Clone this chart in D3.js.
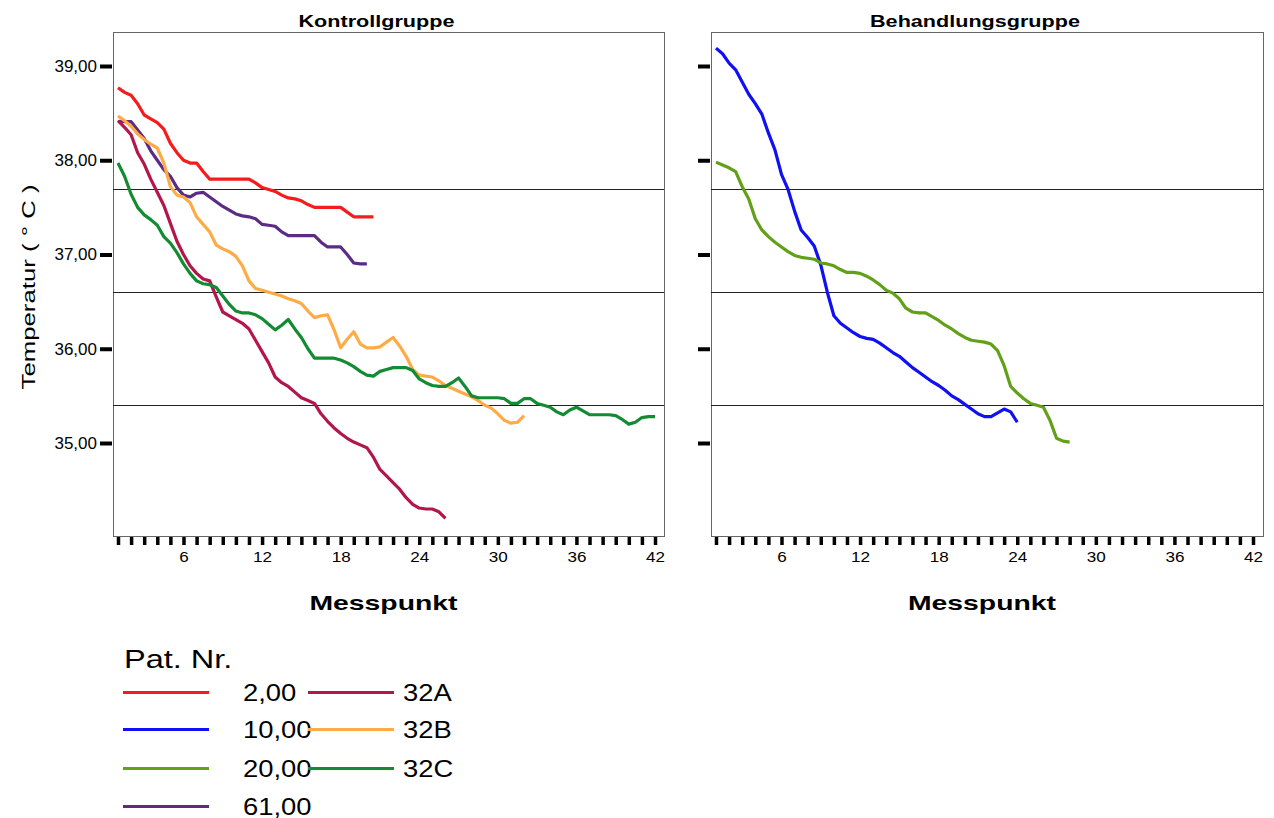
<!DOCTYPE html>
<html>
<head>
<meta charset="utf-8">
<script src="https://cdn.jsdelivr.net/npm/d3@7"></script>
<style>
  body { margin: 0; background: #fff; }
  svg text { font-family: "Liberation Sans", Arial, sans-serif; fill: #000; }
</style>
</head>
<body>
<svg id="chart" width="1274" height="818"></svg>
<script>
// Messpunkt of the first value, and the spacing between readings
const firstPoint = 1;
const step = 0.5;

const panels = ['Kontrollgruppe', 'Behandlungsgruppe'];
const yTicks = [35, 36, 37, 38, 39];
const xTicks = d3.range(1, 43);
const refLines = [37.7, 36.6, 35.4];

// Kontrollgruppe
const pat2 = [38.77, 38.72, 38.69, 38.6, 38.48, 38.44, 38.4, 38.33, 38.18, 38.08, 38.0, 37.97, 37.97,
  37.88, 37.8, 37.8, 37.8, 37.8, 37.8, 37.8, 37.8, 37.76, 37.71, 37.69, 37.67, 37.63, 37.6, 37.59,
  37.57, 37.53, 37.5, 37.5, 37.5, 37.5, 37.5, 37.45, 37.4, 37.4, 37.4, 37.4];
const pat61 = [38.41, 38.41, 38.41, 38.32, 38.23, 38.1, 38.0, 37.9, 37.83, 37.71, 37.63, 37.61, 37.65,
  37.66, 37.61, 37.56, 37.51, 37.47, 37.43, 37.41, 37.4, 37.38, 37.32, 37.31, 37.3, 37.24, 37.2, 37.2,
  37.2, 37.2, 37.2, 37.13, 37.08, 37.08, 37.08, 37.0, 36.91, 36.9, 36.9];
const pat32A = [38.42, 38.35, 38.27, 38.08, 37.96, 37.8, 37.66, 37.52, 37.33, 37.14, 37.0, 36.88, 36.8,
  36.74, 36.72, 36.55, 36.39, 36.35, 36.31, 36.27, 36.21, 36.09, 35.97, 35.85, 35.7, 35.64, 35.6, 35.54,
  35.48, 35.45, 35.42, 35.31, 35.23, 35.16, 35.1, 35.05, 35.01, 34.98, 34.95, 34.85, 34.72, 34.65,
  34.58, 34.51, 34.42, 34.35, 34.31, 34.3, 34.3, 34.27, 34.2];
const pat32B = [38.47, 38.42, 38.36, 38.28, 38.22, 38.17, 38.13, 37.97, 37.72, 37.63, 37.61, 37.55, 37.4,
  37.32, 37.24, 37.1, 37.06, 37.03, 36.98, 36.88, 36.72, 36.64, 36.62, 36.6, 36.58, 36.56, 36.53, 36.51,
  36.48, 36.4, 36.33, 36.35, 36.36, 36.2, 36.01, 36.1, 36.18, 36.05, 36.01, 36.01, 36.02, 36.07, 36.12,
  36.03, 35.92, 35.78, 35.72, 35.71, 35.7, 35.66, 35.61, 35.58, 35.55, 35.52, 35.49, 35.45, 35.4, 35.37,
  35.31, 35.24, 35.21, 35.22, 35.29];
const pat32C = [37.97, 37.83, 37.64, 37.5, 37.42, 37.37, 37.31, 37.19, 37.12, 37.02, 36.9, 36.8, 36.72,
  36.69, 36.68, 36.65, 36.56, 36.47, 36.4, 36.38, 36.38, 36.36, 36.32, 36.26, 36.2, 36.25, 36.31, 36.21,
  36.12, 36.0, 35.9, 35.9, 35.9, 35.9, 35.88, 35.85, 35.81, 35.76, 35.72, 35.71, 35.76, 35.78, 35.8, 35.8,
  35.8, 35.77, 35.68, 35.64, 35.61, 35.6, 35.6, 35.64, 35.69, 35.6, 35.5, 35.48, 35.48, 35.48, 35.48,
  35.47, 35.42, 35.42, 35.47, 35.47, 35.42, 35.4, 35.38, 35.33, 35.3, 35.35, 35.38, 35.34, 35.3, 35.3,
  35.3, 35.3, 35.29, 35.25, 35.2, 35.22, 35.27, 35.28, 35.28];

// Behandlungsgruppe
const pat10 = [39.19, 39.13, 39.03, 38.96, 38.83, 38.7, 38.6, 38.49, 38.29, 38.11, 37.85, 37.69, 37.46,
  37.26, 37.18, 37.09, 36.89, 36.6, 36.35, 36.27, 36.22, 36.17, 36.13, 36.11, 36.1, 36.06, 36.01, 35.96,
  35.92, 35.86, 35.8, 35.75, 35.7, 35.65, 35.61, 35.56, 35.5, 35.46, 35.41, 35.36, 35.31, 35.28, 35.28,
  35.32, 35.36, 35.33, 35.22];
const pat20 = [37.98, 37.95, 37.92, 37.88, 37.72, 37.59, 37.38, 37.26, 37.19, 37.13, 37.08, 37.03, 36.99,
  36.97, 36.96, 36.95, 36.91, 36.9, 36.88, 36.84, 36.81, 36.81, 36.8, 36.77, 36.73, 36.68, 36.62, 36.59,
  36.53, 36.43, 36.39, 36.38, 36.38, 36.34, 36.3, 36.25, 36.21, 36.16, 36.12, 36.09, 36.08, 36.07, 36.05,
  35.98, 35.82, 35.6, 35.53, 35.47, 35.42, 35.4, 35.38, 35.24, 35.05, 35.02, 35.01];

const patLabels = ['2,00', '10,00', '20,00', '61,00', '32A', '32B', '32C'];
const patColors = ['#f41c1c', '#1010f2', '#62a018', '#5b2c84', '#b3164a', '#ffab45', '#138b33'];
const patValues = [pat2, pat10, pat20, pat61, pat32A, pat32B, pat32C];
const patPanel = [0, 1, 1, 0, 0, 0, 0];

const svg = d3.select('#chart');

// stretch a text horizontally to look like the wide original lettering
function stretch(sel, k) {
    sel.each(function () {
        const w = this.getComputedTextLength();
        if (w > 0) {
            d3.select(this).attr('textLength', w * k).attr('lengthAdjust', 'spacingAndGlyphs');
        }
    });
}

const frames = [
    {left: 113, right: 664},
    {left: 711, right: 1263},
];
const frameTop = 32;
const frameBottom = 536;

const y = d3.scaleLinear().domain([35, 39]).range([443, 66]);

frames.forEach((f, p) => {
    const x = d3.scaleLinear().domain([1, 42]).range([f.left + 5, f.left + 542]);
    const g = svg.append('g');

    g.append('rect')
        .attr('x', f.left + 0.5)
        .attr('y', frameTop + 0.5)
        .attr('width', f.right - f.left)
        .attr('height', frameBottom - frameTop)
        .attr('fill', 'none')
        .attr('stroke', '#666')
        .attr('stroke-width', 1);

    g.append('text')
        .attr('x', (f.left + f.right) / 2 - 12)
        .attr('y', 27)
        .attr('text-anchor', 'middle')
        .attr('font-size', 17)
        .attr('font-weight', 'bold')
        .text(panels[p])
        .call(stretch, 1.27);

    g.selectAll('line.ref')
        .data(refLines)
        .join('line')
        .attr('class', 'ref')
        .attr('x1', f.left)
        .attr('x2', f.right)
        .attr('y1', d => Math.round(y(d)) + 0.5)
        .attr('y2', d => Math.round(y(d)) + 0.5)
        .attr('stroke', '#222')
        .attr('stroke-width', 1.2);

    const yAxis = g.append('g')
        .attr('transform', `translate(${f.left - 1},0)`)
        .call(d3.axisLeft(y)
            .tickValues(yTicks)
            .tickSize(12)
            .tickPadding(3)
            .tickFormat(d => p === 0 ? d.toFixed(2).replace('.', ',') : ''));
    yAxis.select('.domain').remove();
    yAxis.selectAll('line').attr('stroke', '#000').attr('stroke-width', 4);
    yAxis.selectAll('text')
        .attr('font-size', 17)
        .attr('font-family', '"Liberation Sans", Arial, sans-serif')
        .attr('fill', '#222');

    const xAxis = g.append('g')
        .attr('transform', `translate(0,${frameBottom + 1})`)
        .call(d3.axisBottom(x)
            .tickValues(xTicks)
            .tickSize(8)
            .tickPadding(7)
            .tickFormat(d => d % 6 === 0 ? d : ''));
    xAxis.select('.domain').remove();
    xAxis.selectAll('line').attr('stroke', '#000').attr('stroke-width', 3.5);
    xAxis.selectAll('text')
        .attr('font-size', 14)
        .attr('font-family', '"Liberation Sans", Arial, sans-serif')
        .attr('fill', '#222')
        .call(stretch, 1.22);

    g.append('text')
        .attr('x', (f.left + f.right) / 2 - 5)
        .attr('y', 610)
        .attr('text-anchor', 'middle')
        .attr('font-size', 21)
        .attr('font-weight', 'bold')
        .text('Messpunkt')
        .call(stretch, 1.35);

    const line = d3.line()
        .x((d, i) => x(firstPoint + i * step))
        .y(d => y(d));

    patValues.forEach((vals, i) => {
        if (patPanel[i] !== p) return;
        g.append('path')
            .attr('d', line(vals))
            .attr('fill', 'none')
            .attr('stroke', patColors[i])
            .attr('stroke-width', 3.2)
            .attr('stroke-linejoin', 'round');
    });
});

svg.append('text')
    .attr('transform', 'translate(35,287) rotate(-90)')
    .attr('text-anchor', 'middle')
    .attr('font-size', 19)
    .text('Temperatur ( ° C )')
    .attr('textLength', 205)
    .attr('lengthAdjust', 'spacingAndGlyphs');

// legend
const legend = svg.append('g');
legend.append('text')
    .attr('x', 124)
    .attr('y', 668)
    .attr('font-size', 26)
    .text('Pat. Nr.')
    .call(stretch, 1.25);

const rowY = [692.5, 729.5, 768.5, 806.5];
const items = legend.selectAll('g.item')
    .data(patLabels)
    .join('g')
    .attr('class', 'item')
    .attr('transform', (d, i) => i < 4
        ? `translate(0,${rowY[i]})`
        : `translate(185,${rowY[i - 4]})`);

items.append('line')
    .attr('x1', 123)
    .attr('x2', 209)
    .attr('stroke', (d, i) => patColors[i])
    .attr('stroke-width', 3.2);

items.append('text')
    .attr('x', (d, i) => i < 4 ? 243 : 218)
    .attr('y', 8)
    .attr('font-size', 23)
    .text(d => d)
    .call(stretch, 1.19);
</script>
</body>
</html>
